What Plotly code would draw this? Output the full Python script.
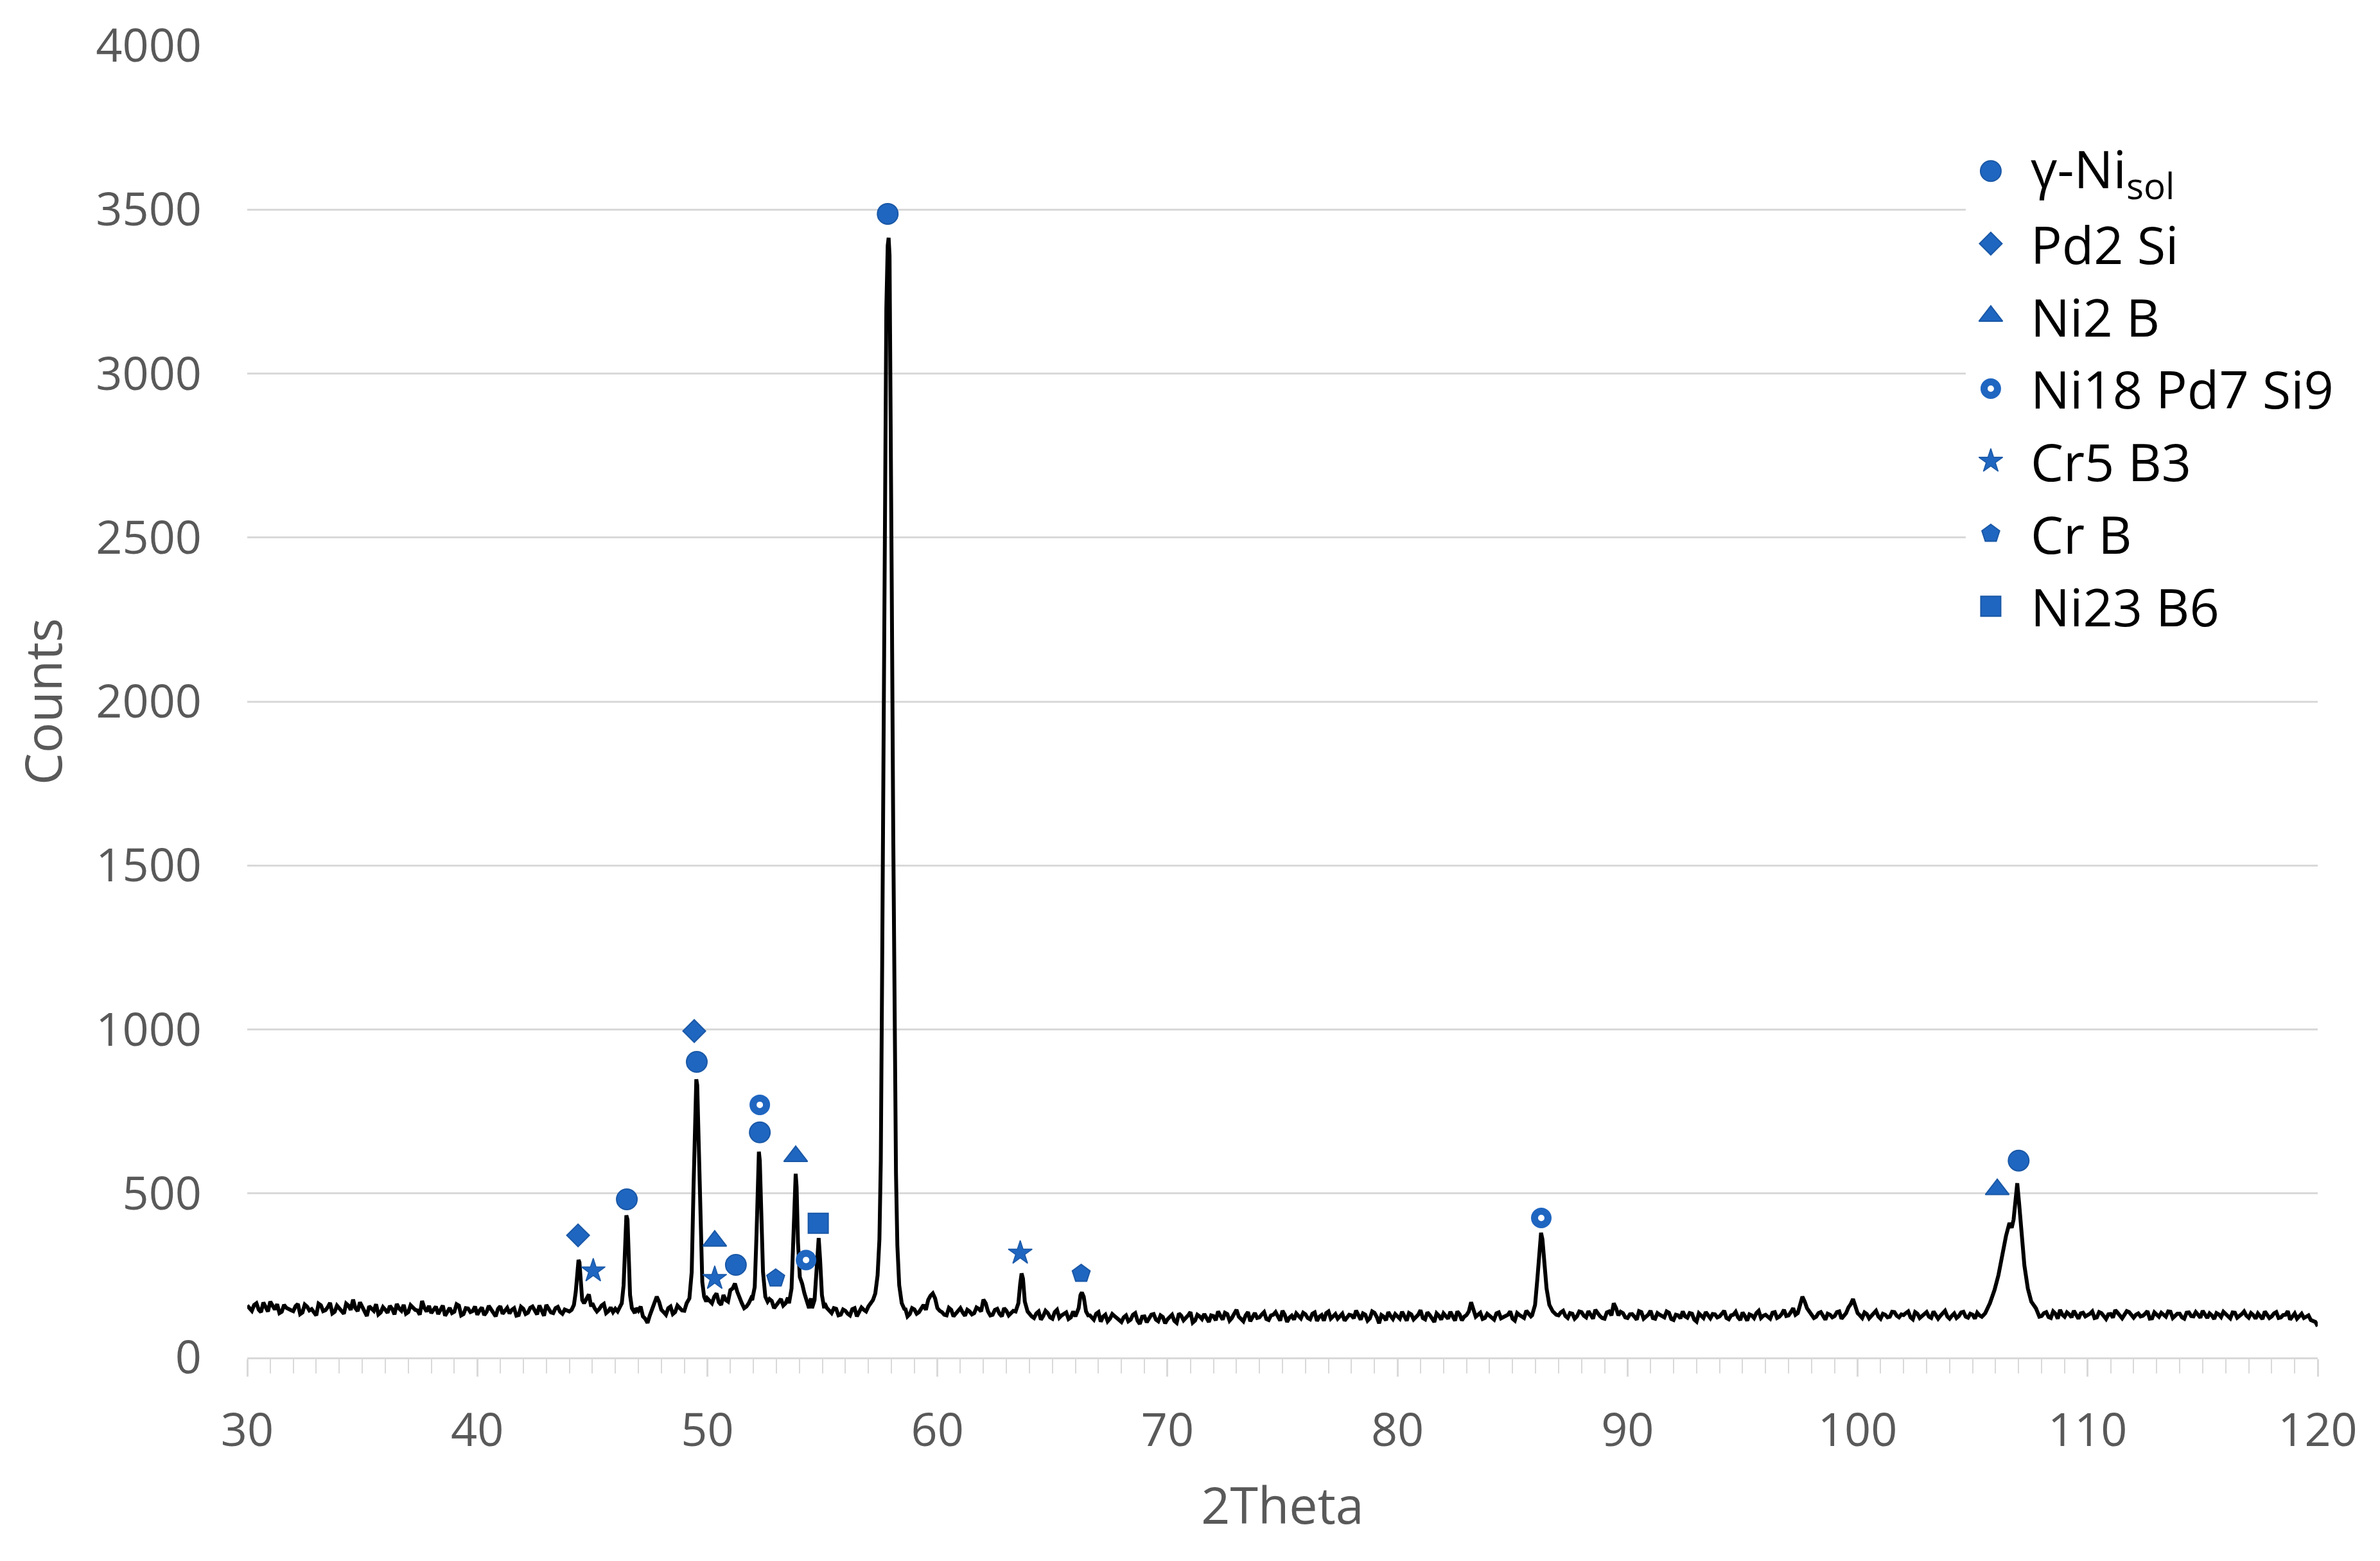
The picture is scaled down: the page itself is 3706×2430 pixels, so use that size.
import numpy as np
import plotly.graph_objects as go

# XRD scan background, every 0.2 deg (30.0 ... 120.0)
BG_START = 30.0
BG_STEP = 0.2
BG_COUNTS = [
    158, 142, 165, 138, 152, 170, 146, 135, 160, 149,   # 30
    141, 163, 137, 155, 147, 128, 159, 144, 166, 139,   # 32
    150, 133, 158, 176, 141, 153, 126, 148, 162, 137,   # 34
    145, 157, 131, 149, 160, 138, 152, 143, 172, 140,   # 36
    135, 155, 146, 127, 151, 139, 158, 132, 149, 141,   # 38
    130, 152, 138, 147, 125, 156, 140, 134, 150, 129,   # 40
    148, 136, 155, 131, 144, 160, 137, 150, 139, 146,   # 42
    140, 150, 160, 170, 185, 165, 140, 158, 135, 152,   # 44
    148, 150, 150, 150, 150, 142, 125, 105, 150, 185,   # 46
    145, 130, 155, 138, 150, 142, 165, 180, 200, 190,   # 48
    180, 165, 195, 160, 175, 205, 225, 180, 150, 165,   # 50
    175, 190, 168, 155, 172, 160, 178, 165, 200, 230,   # 52
    220, 185, 175, 195, 170, 180, 150, 135, 148, 130,   # 54
    142, 128, 150, 137, 145, 155, 148, 165, 170, 180,   # 56
    200, 160, 145, 150, 132, 146, 138, 160, 175, 195,   # 58
    150, 138, 128, 145, 132, 150, 127, 140, 135, 148,   # 60
    176, 140, 130, 148, 125, 142, 136, 150, 200, 145,   # 62
    132, 120, 140, 126, 135, 118, 145, 128, 137, 122,   # 64
    150, 190, 140, 130, 115, 138, 124, 110, 132, 120,   # 66
    108, 128, 115, 135, 102, 125, 118, 132, 110, 123,   # 68
    116, 130, 105, 127, 119, 138, 112, 125, 132, 108,   # 70
    126, 140, 115, 132, 120, 145, 118, 128, 110, 135,   # 72
    122, 138, 114, 130, 125, 142, 108, 127, 134, 119,   # 74
    131, 116, 137, 124, 112, 140, 126, 118, 133, 121,   # 76
    128, 143, 115, 130, 119, 136, 104, 124, 138, 117,   # 78
    125, 139, 112, 131, 122, 144, 116, 129, 108, 127,   # 80
    134, 118, 126, 140, 113, 129, 168, 124, 136, 120,   # 82
    128, 115, 137, 122, 130, 118, 135, 126, 142, 125,   # 84
    250, 380, 230, 150, 135, 128, 142, 120, 133, 125,   # 86
    138, 122, 130, 145, 126, 118, 140, 165, 128, 135,   # 88
    120, 132, 115, 138, 125, 142, 118, 130, 122, 136,   # 90
    114, 128, 140, 121, 133, 109, 127, 138, 119, 131,   # 92
    125, 142, 116, 130, 122, 137, 112, 128, 135, 120,   # 94
    130, 118, 138, 124, 145, 128, 150, 135, 185, 150,   # 96
    132, 124, 138, 115, 130, 126, 140, 128, 152, 178,   # 98
    135, 120, 132, 126, 142, 118, 130, 124, 138, 122,   # 100
    129, 140, 116, 133, 125, 138, 120, 131, 127, 142,   # 102
    118, 134, 126, 139, 121, 130, 136, 124, 140, 150,   # 104
    200, 300, 411, 531, 300, 170, 150, 135, 128, 140,   # 106
    126, 138, 120, 133, 145, 124, 131, 142, 118, 136,   # 108
    128, 140, 122, 135, 117, 132, 144, 125, 130, 138,   # 110
    121, 134, 127, 141, 119, 130, 136, 124, 139, 126,   # 112
    133, 118, 137, 125, 130, 142, 120, 128, 135, 123,   # 114
    131, 119, 136, 126, 140, 121, 129, 134, 117, 132,   # 116
    125, 138, 122, 130, 115, 134, 127, 120, 128, 112,   # 118
    95,
]
# the in-between samples (30.1 ... 119.9)
BG_MID_START = 30.1
BG_MID_COUNTS = [
    148, 160, 145, 167, 140, 155, 162, 139, 151, 144,   # 30.1
    156, 132, 161, 143, 137, 164, 141, 153, 134, 158,   # 32.1
    140, 164, 145, 150, 168, 135, 156, 142, 131, 153,   # 34.1
    136, 148, 163, 142, 133, 159, 145, 130, 151, 157,   # 36.1
    147, 132, 158, 142, 135, 162, 128, 150, 138, 155,   # 38.1
    143, 129, 157, 135, 148, 133, 151, 145, 127, 154,   # 40.1
    132, 151, 141, 158, 127, 149, 135, 154, 133, 143,   # 42.1
    135, 150, 150, 150, 190, 150, 147, 163, 141, 138,   # 44.1
    140, 150, 150, 150, 150, 155, 118, 128, 165, 170,   # 46.1
    138, 150, 132, 158, 143, 152, 150, 150, 150, 150,   # 48.1
    172, 185, 168, 190, 170, 210, 200, 165, 155, 180,   # 50.1
    190, 180, 160, 178, 150, 170, 158, 182, 200, 220,   # 52.1
    215, 190, 180, 170, 175, 165, 142, 150, 128, 146,   # 54.1
    133, 147, 125, 152, 140, 160, 150, 170, 180, 190,   # 56.1
    180, 150, 140, 125, 150, 133, 152, 145, 188, 180,   # 58.1
    142, 130, 151, 125, 140, 137, 145, 131, 152, 140,   # 60.1
    165, 128, 145, 133, 150, 128, 142, 130, 210, 130,   # 62.1
    125, 134, 115, 142, 122, 138, 121, 132, 117, 140,   # 64.1
    170, 170, 125, 122, 133, 109, 130, 118, 126, 114,   # 66.1
    122, 110, 130, 112, 124, 107, 130, 115, 128, 104,   # 68.1
    125, 111, 134, 113, 128, 106, 130, 117, 121, 128,   # 70.1
    113, 127, 136, 112, 133, 124, 110, 138, 125, 120,   # 72.1
    131, 117, 128, 138, 112, 130, 121, 115, 127, 136,   # 74.1
    120, 133, 111, 129, 135, 118, 132, 124, 112, 130,   # 76.1
    119, 127, 134, 112, 140, 123, 129, 113, 126, 132,   # 78.1
    118, 126, 135, 116, 130, 120, 137, 118, 134, 115,   # 80.1
    126, 139, 112, 131, 124, 140, 150, 130, 117, 133,   # 82.1
    121, 134, 119, 128, 140, 112, 129, 120, 133, 140,   # 84.1
    300, 330, 190, 142, 125, 137, 126, 135, 118, 140,   # 86.1
    127, 141, 118, 133, 120, 137, 128, 150, 139, 122,   # 88.1
    131, 124, 141, 118, 130, 120, 135, 125, 140, 117,   # 90.1
    130, 119, 125, 135, 115, 134, 120, 126, 132, 122,   # 92.1
    133, 120, 128, 139, 114, 126, 131, 120, 142, 127,   # 94.1
    124, 136, 120, 132, 126, 138, 130, 160, 170, 140,   # 96.1
    120, 135, 127, 133, 122, 138, 118, 135, 162, 160,   # 98.1
    128, 137, 119, 134, 125, 133, 122, 139, 127, 131,   # 100.1
    135, 122, 138, 120, 130, 124, 140, 118, 136, 125,   # 102.1
    127, 120, 137, 124, 133, 118, 128, 131, 145, 160,   # 104.1
    250, 350, 400, 480, 230, 160, 142, 130, 133, 124,   # 106.1
    135, 123, 140, 118, 130, 137, 122, 128, 134, 125,   # 108.1
    133, 120, 138, 126, 131, 121, 136, 119, 141, 127,   # 110.1
    130, 125, 133, 118, 137, 124, 128, 140, 120, 133,   # 112.1
    122, 136, 126, 138, 121, 129, 134, 117, 131, 139,   # 114.1
    124, 137, 121, 132, 127, 135, 118, 126, 140, 120,   # 116.1
    134, 120, 129, 141, 123, 118, 133, 125, 114, 108,   # 118.1
]

# peak profiles (2theta, counts)
PEAK_2THETA = [
    [44.10, 44.20, 44.28, 44.34, 44.40, 44.44, 44.50, 44.56, 44.64, 44.75, 44.85, 44.95],
    [46.15, 46.28, 46.36, 46.42, 46.48, 46.53, 46.58, 46.64, 46.72, 46.85],
    [49.10, 49.22, 49.32, 49.40, 49.46, 49.52, 49.56, 49.62, 49.70, 49.78, 49.86, 49.95],
    [51.95, 52.06, 52.14, 52.20, 52.24, 52.28, 52.34, 52.42, 52.52, 52.62],
    [53.55, 53.66, 53.74, 53.80, 53.84, 53.88, 53.94, 54.02, 54.12, 54.22, 54.32, 54.42],
    [54.55, 54.66, 54.74, 54.80, 54.84, 54.90, 54.98, 55.08],
    [57.05, 57.20, 57.30, 57.40, 57.48, 57.54, 57.60, 57.66, 57.72, 57.78, 57.84,
     57.88, 57.92, 57.96, 58.02, 58.08, 58.14, 58.20, 58.26, 58.34, 58.45, 58.58],
    [63.40, 63.52, 63.60, 63.66, 63.72, 63.80, 63.92],
    [66.00, 66.14, 66.22, 66.28, 66.36, 66.46, 66.58],
    [85.85, 85.98, 86.08, 86.16, 86.24, 86.30, 86.38, 86.48, 86.60, 86.75, 86.90],
    [105.55, 105.75, 105.95, 106.12, 106.30, 106.45, 106.60, 106.70, 106.78, 106.86,
     106.94, 107.02, 107.12, 107.25, 107.40, 107.55, 107.75],
]
PEAK_COUNTS = [
    [145, 160, 200, 265, 297, 290, 230, 175, 165, 178, 192, 155],
    [148, 165, 220, 340, 433, 420, 300, 190, 150, 135],
    [165, 180, 260, 520, 760, 848, 830, 640, 400, 230, 185, 170],
    [175, 215, 380, 580, 627, 600, 420, 260, 185, 170],
    [165, 210, 380, 530, 560, 520, 350, 245, 225, 195, 170, 150],
    [150, 175, 260, 350, 364, 300, 190, 150],
    [160, 175, 195, 250, 360, 600, 1200, 2000, 2750, 3200, 3390,
     3414, 3360, 3050, 2300, 1600, 950, 560, 340, 220, 165, 145],
    [140, 165, 225, 256, 240, 170, 140],
    [125, 150, 190, 198, 185, 140, 125],
    [128, 160, 240, 330, 380, 360, 290, 210, 160, 140, 130],
    [135, 165, 205, 250, 320, 370, 410, 395, 420, 490, 531, 470, 370, 280, 210, 170, 150],
]

# phase labels placed above the peaks
PHASES = ["γ-Ni<sub>sol</sub>", "Pd2 Si", "Ni2 B", "Ni18 Pd7 Si9", "Cr5 B3", "Cr B", "Ni23 B6"]
NI_SOL_X = [46.5, 49.54, 51.24, 52.28, 57.84, 107.0]
NI_SOL_Y = [482, 901, 282, 686, 3487, 600]
PD2SI_X = [44.38, 49.43]
PD2SI_Y = [372, 995]
NI2B_X = [50.32, 53.84, 106.07]
NI2B_Y = [355, 613, 512]
NI18PD7SI9_X = [52.28, 54.29, 86.25]
NI18PD7SI9_Y = [770, 297, 425]
CR5B3_X = [45.04, 50.32, 63.6]
CR5B3_Y = [264, 241, 318]
CRB_X = [52.97, 66.25]
CRB_Y = [241, 255]
NI23B6_X = [54.82]
NI23B6_Y = [409]

BLUE = "#1f66c1"
EDGE = "#1a58a6"
GRID = "#d9d9d9"
TXT = "#595959"
FONT = "Open Sans"

# merge background scan with the peak profiles
bg_x = np.round(np.concatenate([
    BG_START + BG_STEP * np.arange(len(BG_COUNTS)),
    BG_MID_START + BG_STEP * np.arange(len(BG_MID_COUNTS)),
]), 2)
bg_y = np.array(BG_COUNTS + BG_MID_COUNTS, dtype=float)
keep = np.ones(len(bg_x), dtype=bool)
for pk in PEAK_2THETA:
    keep &= ~((bg_x >= pk[0]) & (bg_x <= pk[-1]))
xs = np.concatenate([bg_x[keep]] + [np.array(p) for p in PEAK_2THETA])
ys = np.concatenate([bg_y[keep]] + [np.array(c, dtype=float) for c in PEAK_COUNTS])
order = np.argsort(xs)
xs, ys = xs[order], ys[order]

fig = go.Figure()
fig.add_trace(go.Scatter(x=xs, y=ys, mode="lines", line=dict(color="black", width=6),
                         showlegend=False, hoverinfo="skip"))

marker_styles = [
    ("circle", 32, 2),
    ("diamond", 27, 2),
    ("triangle-up", 32, 2),
    ("circle-open", 21, 11),
    ("star", 28, 1.5),
    ("pentagon", 29, 2),
    ("square", 31, 2),
]
marker_data = [
    (NI_SOL_X, NI_SOL_Y), (PD2SI_X, PD2SI_Y), (NI2B_X, NI2B_Y),
    (NI18PD7SI9_X, NI18PD7SI9_Y), (CR5B3_X, CR5B3_Y), (CRB_X, CRB_Y), (NI23B6_X, NI23B6_Y),
]


def marker_of(sym, size, lw):
    line_col = BLUE if sym.endswith("open") else EDGE
    return dict(symbol=sym, size=size, color=BLUE, line=dict(color=line_col, width=lw))


for name, (mx, my), (sym, size, lw) in zip(PHASES, marker_data, marker_styles):
    fig.add_trace(go.Scatter(x=mx, y=my, mode="markers", name=name,
                             marker=marker_of(sym, size, lw), showlegend=False))

# key drawn on its own small axes so the symbols keep their full size
# (plotly's built-in legend caps symbols at 16 px)
KEY_GLYPH_X = 39
KEY_TEXT_X = 99
for i, (name, (sym, size, lw)) in enumerate(zip(PHASES, marker_styles)):
    fig.add_trace(go.Scatter(x=[KEY_GLYPH_X], y=[i], mode="markers", xaxis="x3", yaxis="y3",
                             marker=marker_of(sym, size, lw), showlegend=False,
                             hoverinfo="skip"))
    fig.add_annotation(x=KEY_TEXT_X, y=i, xref="x3", yref="y3", text=name, showarrow=False,
                       xanchor="left", yanchor="middle",
                       font=dict(size=81, color="black", family=FONT))

fig.update_layout(
    width=3706, height=2430,
    margin=dict(l=377, r=105, t=63, b=325),
    plot_bgcolor="white", paper_bgcolor="white",
    font=dict(family=FONT, color=TXT),
    showlegend=False,
    xaxis=dict(
        range=[30, 120], dtick=10, tick0=30,
        showgrid=False, zeroline=False,
        showline=True, linecolor=GRID, linewidth=3,
        ticks="outside", ticklen=27, tickwidth=3, tickcolor=GRID,
        minor=dict(dtick=1, ticks="outside", ticklen=22, tickwidth=2, tickcolor=GRID),
        tickfont=dict(size=72, color=TXT, family=FONT),
        ticklabelstandoff=22,
        title=dict(text="2Theta", font=dict(size=79, color=TXT, family=FONT), standoff=46),
    ),
    xaxis2=dict(
        range=[30, 120], dtick=10, tick0=30, overlaying="x", anchor="y", side="bottom",
        showgrid=False, zeroline=False, showline=False, showticklabels=False,
        ticks="inside", ticklen=25, tickwidth=3, tickcolor=GRID,
    ),
    xaxis3=dict(domain=[0.83, 1.0], range=[0, 548], visible=False, anchor="y3"),
    yaxis3=dict(domain=[0.545, 0.932], range=[6.5, -0.5], visible=False, anchor="x3"),
    yaxis=dict(
        range=[0, 4000], dtick=500,
        showgrid=True, gridcolor=GRID, gridwidth=2.5,
        zeroline=False, showline=False, ticks="",
        tickfont=dict(size=72, color=TXT, family=FONT),
        ticklabelstandoff=70,
        title=dict(text="Counts", font=dict(size=79, color=TXT, family=FONT), standoff=26),
    ),
)

fig.write_html("out.html")
